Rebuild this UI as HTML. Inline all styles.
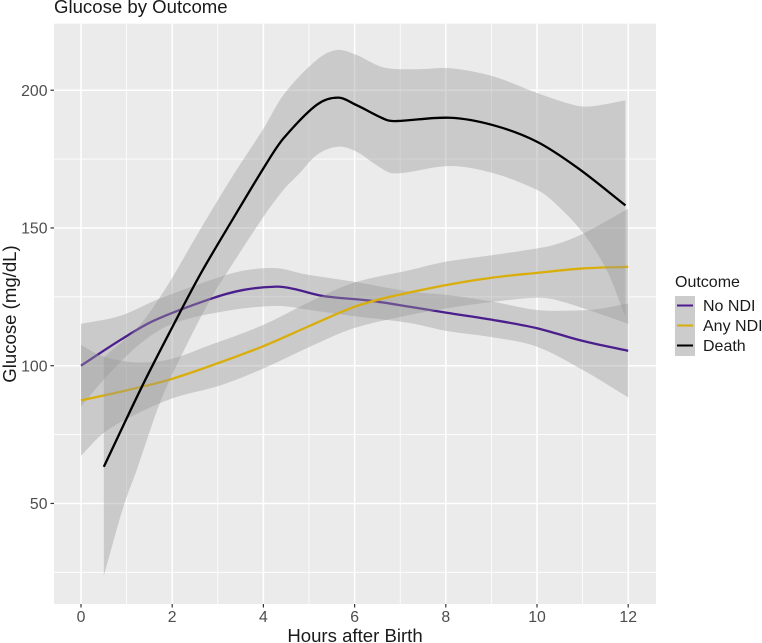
<!DOCTYPE html>
<html lang="en">
<head>
<meta charset="utf-8">
<title>Glucose by Outcome</title>
<style>
html,body{margin:0;padding:0;background:#fff;width:762px;height:643px;overflow:hidden}
svg{display:block;font-family:"Liberation Sans",Arial,sans-serif;filter:blur(0.35px)}
</style>
</head>
<body>
<svg id="chart" width="762" height="643" viewBox="0 0 762 643" xmlns="http://www.w3.org/2000/svg">
  <rect x="0" y="0" width="762" height="643" fill="#fff"/>
  <rect x="54" y="23.7" width="602" height="580.3" fill="#EBEBEB"/>
  <g id="grid"></g>
  <g id="series"></g>
  <g id="axes"></g>
  <text x="54" y="13" font-size="18.6" fill="#1a1a1a">Glucose by Outcome</text>
  <text x="355" y="642" font-size="18.6" fill="#1a1a1a" text-anchor="middle">Hours after Birth</text>
  <text transform="translate(16,314) rotate(-90)" font-size="18.6" fill="#1a1a1a" text-anchor="middle">Glucose (mg/dL)</text>
  <g>
    <text x="675" y="287" font-size="16" fill="#1a1a1a">Outcome</text>
    <rect x="675" y="296" width="20" height="60" fill="#CCCCCC"/>
    <line x1="677" x2="693" y1="305.5" y2="305.5" stroke="#4B1E8E" stroke-width="2"/>
    <line x1="677" x2="693" y1="325.5" y2="325.5" stroke="#D9AE0B" stroke-width="2"/>
    <line x1="677" x2="693" y1="345.5" y2="345.5" stroke="#000" stroke-width="2"/>
    <text x="703" y="311" font-size="16" fill="#1a1a1a">No NDI</text>
    <text x="703" y="331" font-size="16" fill="#1a1a1a">Any NDI</text>
    <text x="703" y="351" font-size="16" fill="#1a1a1a">Death</text>
  </g>
</svg>
<script>
const xTickLabels = [0, 2, 4, 6, 8, 10, 12];
const yTickLabels = [50, 100, 150, 200];
const xMinorTicks = [1, 3, 5, 7, 9, 11];
const yMinorTicks = [25, 75, 125, 175];

const noNdiLineHours = [0, 0.86, 1.59, 2.83, 3.56, 4.29, 4.66, 5.31, 6.34, 7.21, 8.02, 9.04, 10, 11, 12];
const noNdiLine = [100, 109.3, 116.3, 124.2, 127.5, 128.7, 127.9, 125.3, 123.6, 121.4, 119.2, 116.6, 113.6, 109, 105.4];
const noNdiUpperHours = [0, 0.86, 1.66, 2.83, 3.56, 4.29, 4.88, 5.98, 7.21, 8.02, 9.04, 10, 10.72, 11.3, 12];
const noNdiUpper = [115.2, 118.1, 123.9, 131, 134.5, 135.4, 133.3, 130.5, 126.9, 125.7, 123.2, 120.2, 120, 120.5, 122.6];
const noNdiLowerHours = [0, 0.49, 1.22, 1.95, 3.05, 4.29, 5.02, 5.98, 7.21, 8.02, 9.04, 10, 11, 12];
const noNdiLower = [85.1, 94.8, 106.9, 114.8, 119.5, 121.7, 120.2, 118, 115.5, 112.6, 110.3, 106.9, 98.5, 88.5];

const anyNdiLineHours = [0, 0.56, 1.29, 1.95, 2.83, 4, 5.02, 5.9, 6.48, 7.21, 8.02, 9.04, 10, 11, 12];
const anyNdiLine = [87.4, 89.4, 92.2, 95, 99.9, 107.1, 114.5, 120.8, 123.8, 126.6, 129.3, 132, 133.7, 135.3, 135.9];
const anyNdiUpperHours = [0, 0.49, 1.22, 1.95, 2.83, 4, 5.02, 5.98, 7.21, 8.02, 9.04, 9.63, 10.36, 11.02, 12];
const anyNdiUpper = [107.5, 103.3, 101.2, 102.3, 107.5, 114.8, 123.2, 130.1, 134.7, 137.8, 140.2, 141.6, 143.8, 148, 157];
const anyNdiLowerHours = [0, 0.49, 1.22, 2.01, 3.05, 4, 5.02, 5.98, 7.21, 8.02, 9.04, 10, 10.36, 11.02, 12];
const anyNdiLower = [67.3, 75.5, 82.5, 88.2, 92.8, 99, 106.9, 113.6, 118.4, 120.8, 123.2, 124.7, 124.1, 120.8, 115.2];

const deathLineHours = [0.5, 1.33, 1.99, 2.61, 3.34, 4.07, 4.44, 5.17, 5.64, 6.04, 6.7, 6.92, 8.09, 9.04, 10, 10.9, 11.94];
const deathLine = [63.3, 92.2, 113.6, 133, 153.5, 173.5, 182.5, 194.7, 197.3, 194.6, 189.2, 188.8, 190, 187.3, 181.3, 171.7, 158.2];
const deathUpperHours = [0.5, 1.29, 1.88, 2.61, 3.34, 4, 4.44, 5.17, 5.61, 6.04, 6.63, 7.36, 8.09, 9.04, 10, 10.87, 11.23, 11.94];
const deathUpper = [103, 114.8, 128.7, 149.3, 169.2, 186, 198.3, 211, 214.6, 212.8, 208.3, 207.6, 208, 205, 199, 194.4, 194.2, 196.3];
const deathLowerHours = [0.5, 0.93, 1.22, 1.73, 2.24, 2.83, 3.19, 4, 4.44, 4.8, 5.17, 5.64, 6.04, 6.48, 6.85, 8.09, 9.04, 10, 10.36, 11.02, 11.53, 11.82, 11.94];
const deathLower = [23.7, 48.8, 62, 86.5, 105, 123.9, 133.5, 154, 163.8, 170, 176.5, 179.5, 177.7, 172.8, 169.8, 172.5, 169.9, 163.8, 159.5, 148, 134.7, 123, 117.8];

const NS = 'http://www.w3.org/2000/svg';
function xScale(h) { return 81 + h * 45.6; }
function yScale(v) { return 365.7 - (v - 100) * 2.755; }

function make(parent, tag, attrs) {
  const el = document.createElementNS(NS, tag);
  for (const k in attrs) el.setAttribute(k, attrs[k]);
  parent.appendChild(el);
  return el;
}

function toPoints(hours, values) {
  return hours.map(function (h, i) { return [xScale(h), yScale(values[i])]; });
}

function smoothSegments(pts) {
  let d = '';
  for (let i = 0; i < pts.length - 1; i++) {
    const p0 = pts[Math.max(i - 1, 0)];
    const p1 = pts[i];
    const p2 = pts[i + 1];
    const p3 = pts[Math.min(i + 2, pts.length - 1)];
    const seg = p2[0] - p1[0];
    const s1 = (p2[1] - p0[1]) / (p2[0] - p0[0]);
    const s2 = (p3[1] - p1[1]) / (p3[0] - p1[0]);
    const c1x = p1[0] + seg / 3;
    const c1y = p1[1] + s1 * seg / 3;
    const c2x = p2[0] - seg / 3;
    const c2y = p2[1] - s2 * seg / 3;
    d += 'C' + c1x.toFixed(2) + ' ' + c1y.toFixed(2) + ' ' + c2x.toFixed(2) + ' ' + c2y.toFixed(2) + ' ' + p2[0].toFixed(2) + ' ' + p2[1].toFixed(2);
  }
  return d;
}

function reversedSegments(pts) {
  let d = '';
  for (let i = pts.length - 1; i > 0; i--) {
    const p0 = pts[Math.min(i + 1, pts.length - 1)];
    const p1 = pts[i];
    const p2 = pts[i - 1];
    const p3 = pts[Math.max(i - 2, 0)];
    const seg = p2[0] - p1[0];
    const s1 = (p2[1] - p0[1]) / (p2[0] - p0[0]);
    const s2 = (p3[1] - p1[1]) / (p3[0] - p1[0]);
    const c1x = p1[0] + seg / 3;
    const c1y = p1[1] + s1 * seg / 3;
    const c2x = p2[0] - seg / 3;
    const c2y = p2[1] - s2 * seg / 3;
    d += 'C' + c1x.toFixed(2) + ' ' + c1y.toFixed(2) + ' ' + c2x.toFixed(2) + ' ' + c2y.toFixed(2) + ' ' + p2[0].toFixed(2) + ' ' + p2[1].toFixed(2);
  }
  return d;
}

function linePath(hours, values) {
  const pts = toPoints(hours, values);
  return 'M' + pts[0][0].toFixed(2) + ' ' + pts[0][1].toFixed(2) + smoothSegments(pts);
}

function ribbonPath(upH, upV, loH, loV) {
  const up = toPoints(upH, upV);
  const lo = toPoints(loH, loV);
  const last = lo[lo.length - 1];
  return 'M' + up[0][0].toFixed(2) + ' ' + up[0][1].toFixed(2) + smoothSegments(up) +
    'L' + last[0].toFixed(2) + ' ' + last[1].toFixed(2) + reversedSegments(lo) + 'Z';
}

const grid = document.getElementById('grid');
const axes = document.getElementById('axes');
const series = document.getElementById('series');

yMinorTicks.forEach(function (v) {
  const l = make(grid, 'line', { x1: 54, x2: 656, y1: yScale(v), y2: yScale(v), stroke: '#fff', 'stroke-width': 0.8 });
  
  
});
xMinorTicks.forEach(function (h) {
  const l = make(grid, 'line', { x1: xScale(h), x2: xScale(h), y1: 23.7, y2: 604, stroke: '#fff', 'stroke-width': 0.8 });
  
  
});
yTickLabels.forEach(function (v) {
  const y = yScale(v);
  const l = make(grid, 'line', { x1: 54, x2: 656, y1: y, y2: y, stroke: '#fff', 'stroke-width': 1.5 });
  
  
  const t = make(axes, 'line', { x1: 50.5, x2: 54, y1: y, y2: y, stroke: '#333', 'stroke-width': 1.2 });
  
  
  const lab = make(axes, 'text', { x: 47.5, y: y + 5.6, 'font-size': 15.8, fill: '#4D4D4D', 'text-anchor': 'end' });
  
  
  lab.textContent = v;
});
xTickLabels.forEach(function (h) {
  const x = xScale(h);
  const l = make(grid, 'line', { x1: x, x2: x, y1: 23.7, y2: 604, stroke: '#fff', 'stroke-width': 1.5 });
  
  
  const t = make(axes, 'line', { x1: x, x2: x, y1: 604, y2: 607.5, stroke: '#333', 'stroke-width': 1.2 });
  
  
  const lab = make(axes, 'text', { x: x, y: 622, 'font-size': 15.8, fill: '#4D4D4D', 'text-anchor': 'middle' });
  
  
  lab.textContent = h;
});

function drawRibbon(upH, upV, loH, loV) {
  return make(series, 'path', { d: ribbonPath(upH, upV, loH, loV), fill: '#999999', 'fill-opacity': 0.4, stroke: 'none' });
}
function drawLine(hours, values, color) {
  return make(series, 'path', { d: linePath(hours, values), fill: 'none', stroke: color, 'stroke-width': 2.3, 'stroke-linecap': 'butt' });
}

const r1 = drawRibbon(noNdiUpperHours, noNdiUpper, noNdiLowerHours, noNdiLower);


const l1 = drawLine(noNdiLineHours, noNdiLine, '#4B1E8E');



const r2 = drawRibbon(anyNdiUpperHours, anyNdiUpper, anyNdiLowerHours, anyNdiLower);


const l2 = drawLine(anyNdiLineHours, anyNdiLine, '#D9AE0B');



const r3 = drawRibbon(deathUpperHours, deathUpper, deathLowerHours, deathLower);


const l3 = drawLine(deathLineHours, deathLine, '#000000');


</script>
</body>
</html>
